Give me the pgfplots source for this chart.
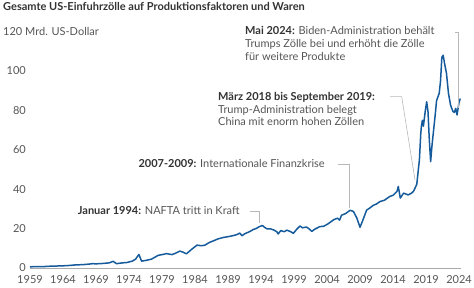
\documentclass[border=0pt]{standalone}
\usepackage{fontspec}
\setmainfont{Lato}
\usepackage{pgfplots}
\pgfplotsset{compat=1.18}
\definecolor{linec}{HTML}{155B9B}
\definecolor{txt}{HTML}{555555}
\definecolor{ttl}{HTML}{333333}
\definecolor{lead}{HTML}{B8B8B8}
\definecolor{axc}{HTML}{AAAAAA}
\newcommand{\fs}{\fontsize{11}{13}\selectfont}
\begin{document}
\begin{tikzpicture}[x=1pt,y=1pt]
\useasboundingbox (0,0) rectangle (474,287);
\begin{axis}[at={(30pt,19pt)}, anchor=south west, scale only axis,
  width=431pt, height=236.4pt,
  xmin=1959, xmax=2024.3, ymin=0, ymax=120,
  axis x line*=bottom, axis y line*=left,
  y axis line style={draw=none},
  x axis line style={draw=axc, line width=0.6pt, -},
  major tick length=0pt, tick style={draw=none},
  xtick={1959,1964,...,2024}, ytick={0,20,...,100},
  /pgf/number format/assume math mode=true,
  /pgf/number format/set thousands separator={},
  ticklabel style={font=\fs, text=txt},
  x tick label style={anchor=north, inner sep=0pt, yshift=-7.5pt},
  y tick label style={anchor=east, inner sep=0pt, xshift=-4pt},
  clip=false]
\addplot[linec, line width=1.5pt, line join=round, mark=none] coordinates {
(1959.0,0.6) (1960,0.7) (1961,0.7) (1962,0.9) (1963,1.0) (1964,1.1) (1965,1.3)
(1966,1.6) (1967,1.7) (1968,2.0) (1968.5,2.2) (1969,2.1) (1970,2.3) (1971,2.6)
(1971.6,3.4) (1972.1,2.2) (1973,2.6) (1973.7,2.8) (1974.5,3.5) (1975,4.5)
(1975.5,6.9) (1975.9,3.5) (1976.5,3.8) (1977.4,4.5) (1978,5.6) (1978.4,6.4)
(1979,6.8) (1979.7,7.3) (1980.5,6.8) (1981,7.4) (1981.7,8.6) (1982.2,8.0)
(1982.7,7.2) (1983.5,9.5) (1984.3,11.6) (1985,11.3) (1985.5,11.6) (1986.2,13.0)
(1986.8,13.8) (1987.5,14.8) (1988.3,15.5) (1989,15.9) (1989.6,16.3) (1990.3,16.9)
(1990.8,17.7) (1991.1,16.4) (1991.6,17.5) (1992.3,18.5) (1992.8,19.5) (1993.3,20.1)
(1993.7,20.9) (1994.2,21.6) (1994.6,20.5) (1994.9,19.9) (1995.5,19.8) (1996,19.2)
(1996.4,18.4) (1996.6,17.3) (1997,19.0) (1997.5,18.4) (1997.9,19.2) (1998.4,18.6)
(1998.9,17.6) (1999.4,19.6) (1999.9,21.3) (2000.3,20.4) (2000.9,20.8) (2001.3,19.8)
(2001.7,18.6) (2002.2,19.8) (2002.9,21.0) (2003.5,21.2) (2004.2,22.5) (2005,24.5)
(2005.6,25.3) (2005.9,24.3) (2006.2,26.8) (2006.8,27.6) (2007.5,29.3) (2008,28.7)
(2008.5,25.5) (2009.0,20.7) (2009.4,24.0) (2010,29.4) (2010.5,30.5) (2011,31.8)
(2011.5,32.5) (2012,33.7) (2012.7,34.4) (2013.5,36.3) (2014,36.9) (2014.6,38.9)
(2014.8,41.4) (2015.1,35.5) (2015.6,38.0) (2016.3,37.1) (2016.8,38.0) (2017.1,38.9)
(2017.6,42.5) (2018.0,55) (2018.2,68) (2018.3,72) (2018.45,75) (2018.6,72)
(2018.9,80) (2019.1,84.4) (2019.3,79.4) (2019.5,65) (2019.7,54) (2019.9,62)
(2020.1,68.4) (2020.4,78) (2020.6,85) (2021.0,88.7) (2021.2,95) (2021.4,107)
(2021.6,108) (2021.8,104) (2022.1,98.8) (2022.4,88.7) (2022.7,83) (2022.9,81)
(2023.1,79.4) (2023.3,79) (2023.5,81) (2023.7,77.7) (2024.0,84) (2024.2,86)
};
\end{axis}
% leaders
\draw[lead, line width=0.6pt] (250,75.3) -- (259.3,75.3) -- (259.3,63.7);
\draw[lead, line width=0.6pt] (338,122.7) -- (349.3,122.7) -- (349.3,78.7);
\draw[lead, line width=0.6pt] (390,190.3) -- (401.7,190.3) -- (415,107);
\draw[lead, line width=0.6pt] (455,254.7) -- (458.3,254.7) -- (458.3,179);
% texts
\node[anchor=base west, inner sep=0pt, font=\fs\bfseries, text=ttl] at (3,276.3) {Gesamte US-Einfuhrzölle auf Produktionsfaktoren und Waren};
\node[anchor=base west, inner sep=0pt, font=\fs, text=txt] at (3,251.3) {120 Mrd. US-Dollar};
\node[anchor=base west, inner sep=0pt, font=\fs, text=txt] at (245,252) {\textcolor{ttl}{\bfseries Mai 2024:} Biden-Administration behält};
\node[anchor=base west, inner sep=0pt, font=\fs, text=txt] at (245,239.2) {Trumps Zölle bei und erhöht die Zölle};
\node[anchor=base west, inner sep=0pt, font=\fs, text=txt] at (245,226.4) {für weitere Produkte};
\node[anchor=base west, inner sep=0pt, font=\fs, text=txt] at (218,186.3) {\textcolor{ttl}{\bfseries März 2018 bis September 2019:}};
\node[anchor=base west, inner sep=0pt, font=\fs, text=txt] at (218,173.7) {Trump-Administration belegt};
\node[anchor=base west, inner sep=0pt, font=\fs, text=txt] at (218,161) {China mit enorm hohen Zöllen};
\node[anchor=base west, inner sep=0pt, font=\fs, text=txt] at (138.3,119.7) {\textcolor{ttl}{\bfseries 2007-2009:} Internationale Finanzkrise};
\node[anchor=base west, inner sep=0pt, font=\fs, text=txt] at (77.7,72.5) {\textcolor{ttl}{\bfseries Januar 1994:} NAFTA tritt in Kraft};
\end{tikzpicture}
\end{document}
